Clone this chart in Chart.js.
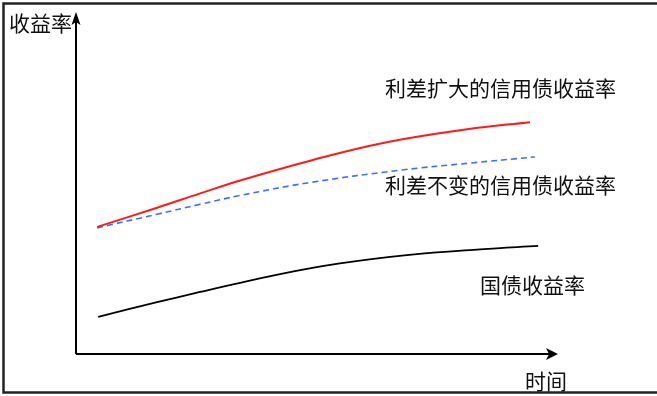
<!DOCTYPE html>
<html>
<head>
<meta charset="utf-8">
<script src="https://cdn.jsdelivr.net/npm/chart.js@4.4.1/dist/chart.umd.min.js"></script>
<style>
  html, body { margin: 0; padding: 0; background: #fff; }
  canvas { display: block; }
</style>
</head>
<body>
<canvas id="yieldChart" width="657" height="396"></canvas>
<script>
// time axis 0..10, yield axis 0..10 (schematic, no ticks)
const wideTime = [0.46, 1.70, 2.59, 3.42, 4.87, 6.38, 8.12, 9.42];
const wideYield = [3.70, 4.26, 4.68, 5.06, 5.64, 6.16, 6.56, 6.77];

const sameTime = [0.46, 1.70, 2.59, 3.42, 4.87, 6.73, 8.18, 9.52];
const sameYield = [3.67, 4.07, 4.36, 4.62, 5.00, 5.36, 5.57, 5.75];

const govTime = [0.48, 1.70, 2.59, 3.42, 4.45, 5.45, 6.87, 8.39, 9.59];
const govYield = [1.06, 1.49, 1.79, 2.06, 2.37, 2.62, 2.87, 3.04, 3.14];

const seriesNames = ['利差扩大的信用债收益率', '利差不变的信用债收益率', '国债收益率'];
const axisNames = ['收益率', '时间'];

const FONT = '21px "Noto Sans CJK SC", sans-serif';

function toPoints(xs, ys) {
    return xs.map((x, i) => ({ x: x, y: ys[i] }));
}

// axes with arrows, frame and text labels
const sketchPlugin = {
    id: 'sketch',
    afterDraw(chart) {
        const ctx = chart.ctx;
        const a = chart.chartArea;
        ctx.save();

        // outer frame
        ctx.strokeStyle = '#222';
        ctx.lineWidth = 2.5;
        ctx.strokeRect(3.5, 3.5, chart.width + 10, 389);

        // axes
        ctx.strokeStyle = '#000';
        ctx.fillStyle = '#000';
        ctx.lineWidth = 2;
        ctx.beginPath();
        ctx.moveTo(a.left + 1, a.bottom + 1);
        ctx.lineTo(a.left + 1, a.top + 8);
        ctx.moveTo(a.left + 1, a.bottom + 1);
        ctx.lineTo(a.right - 6, a.bottom + 1);
        ctx.stroke();

        // y arrow
        ctx.beginPath();
        ctx.moveTo(a.left + 1, a.top);
        ctx.lineTo(a.left + 5.5, a.top + 13);
        ctx.lineTo(a.left + 1, a.top + 10);
        ctx.lineTo(a.left - 3.5, a.top + 13);
        ctx.closePath();
        ctx.fill();

        // x arrow
        ctx.beginPath();
        ctx.moveTo(a.right, a.bottom + 1);
        ctx.lineTo(a.right - 12, a.bottom - 5);
        ctx.lineTo(a.right - 9, a.bottom + 1);
        ctx.lineTo(a.right - 12, a.bottom + 7);
        ctx.closePath();
        ctx.fill();

        // labels
        ctx.font = FONT;
        ctx.fillStyle = '#111';
        ctx.textBaseline = 'middle';
        ctx.textAlign = 'left';
        ctx.fillText(axisNames[0], 9, 23);
        ctx.fillText(axisNames[1], 525, 381);
        ctx.fillText(seriesNames[0], 385, 88);
        ctx.fillText(seriesNames[1], 385, 185);
        ctx.fillText(seriesNames[2], 480, 285);

        ctx.restore();
    }
};

new Chart(document.getElementById('yieldChart'), {
    type: 'line',
    data: {
        datasets: [
            {
                label: seriesNames[0],
                data: toPoints(wideTime, wideYield),
                borderColor: '#ff1a1a',
                borderWidth: 2,
                tension: 0.4,
                pointRadius: 0
            },
            {
                label: seriesNames[1],
                data: toPoints(sameTime, sameYield),
                borderColor: '#3f6ff0',
                borderWidth: 1.6,
                borderDash: [6, 4],
                tension: 0.4,
                pointRadius: 0
            },
            {
                label: seriesNames[2],
                data: toPoints(govTime, govYield),
                borderColor: '#000',
                borderWidth: 1.8,
                tension: 0.4,
                pointRadius: 0
            }
        ]
    },
    options: {
        responsive: false,
        animation: false,
        layout: { padding: { left: 75, top: 12, right: 99, bottom: 43 } },
        scales: {
            x: { type: 'linear', min: 0, max: 10, display: false },
            y: { type: 'linear', min: 0, max: 10, display: false }
        },
        plugins: {
            legend: { display: false },
            tooltip: { enabled: false }
        }
    },
    plugins: [sketchPlugin]
});
</script>
</body>
</html>
